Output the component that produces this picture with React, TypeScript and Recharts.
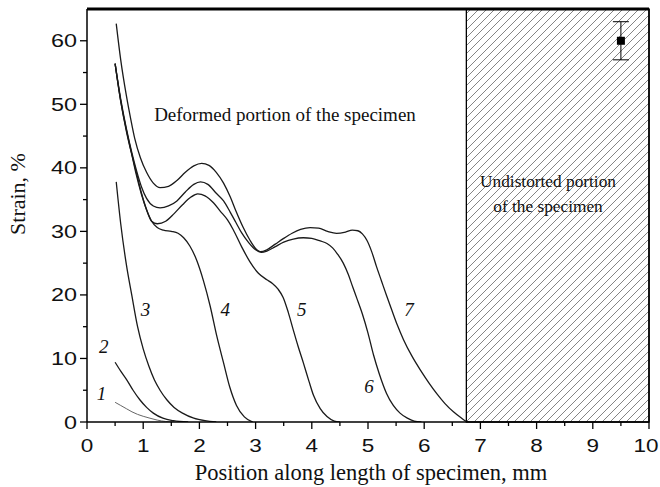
import React from 'react';
import {
  ComposedChart,
  Line,
  Scatter,
  ErrorBar,
  XAxis,
  YAxis,
  ReferenceArea,
  ReferenceLine,
  ReferenceDot,
} from 'recharts';

// strain profiles, [position mm, strain %]
const curve1 = [[0.5, 3.1], [0.6, 2.6], [0.7, 2.1], [0.8, 1.6], [0.9, 1.2], [1.0, 0.9], [1.12, 0.6], [1.25, 0.3], [1.4, 0.08], [1.55, 0]];
const curve2 = [[0.5, 9.4], [0.6, 8.0], [0.71, 6.6], [0.82, 5.0], [0.94, 3.5], [1.06, 2.3], [1.18, 1.4], [1.35, 0.6], [1.54, 0.2], [1.8, 0]];
const curve3 = [[0.52, 37.8], [0.6, 31.2], [0.7, 24.8], [0.8, 19.8], [0.9, 15], [1.0, 11.5], [1.1, 8.8], [1.2, 6.6], [1.3, 5], [1.42, 3.5], [1.55, 2.3], [1.7, 1.4], [1.9, 0.6], [2.1, 0.2], [2.3, 0]];
const curve4 = [[0.5, 56.4], [0.6, 50.5], [0.7, 46], [0.8, 42], [0.88, 38.8], [0.97, 35.8], [1.06, 33.4], [1.15, 31.6], [1.25, 30.6], [1.36, 30.2], [1.5, 30], [1.62, 29.7], [1.72, 29], [1.83, 27.7], [1.95, 25.5], [2.07, 22.3], [2.19, 18.3], [2.31, 13.5], [2.43, 9.3], [2.54, 5.5], [2.66, 2.6], [2.8, 0.8], [2.95, 0]];
const curve5 = [[0.5, 56.4], [0.6, 50.5], [0.7, 45.8], [0.8, 42], [0.88, 39.2], [0.97, 36], [1.06, 33.4], [1.15, 31.6], [1.25, 31.2], [1.4, 31.6], [1.55, 32.8], [1.7, 34.2], [1.85, 35.4], [1.97, 35.9], [2.1, 35.6], [2.25, 34.5], [2.37, 33.2], [2.5, 31.8], [2.6, 30.3], [2.75, 27.6], [2.9, 25.2], [3.05, 23.4], [3.2, 22.4], [3.3, 21.8], [3.4, 20.9], [3.49, 19.6], [3.58, 17.3], [3.67, 14.5], [3.76, 11.8], [3.85, 9.3], [3.95, 6.4], [4.03, 4.2], [4.15, 2.1], [4.27, 0.85], [4.4, 0.15], [4.5, 0]];
const curve6 = [[0.5, 56.4], [0.6, 50.8], [0.7, 46.2], [0.8, 42.3], [0.88, 39.6], [0.97, 37], [1.06, 35.2], [1.18, 34], [1.3, 33.7], [1.45, 34], [1.6, 34.8], [1.75, 36.2], [1.9, 37.4], [2.02, 37.8], [2.15, 37.4], [2.3, 36], [2.43, 34.8], [2.55, 33], [2.65, 31.4], [2.75, 29.8], [2.88, 28.2], [3.0, 27.1], [3.1, 26.7], [3.2, 26.9], [3.35, 27.6], [3.5, 28.3], [3.67, 28.8], [3.85, 29], [4.0, 28.9], [4.15, 28.5], [4.27, 28.1], [4.37, 27.4], [4.46, 26.4], [4.56, 25], [4.65, 23.2], [4.73, 21.2], [4.8, 19.5], [4.9, 17], [5.0, 14], [5.1, 10.5], [5.2, 7.6], [5.33, 4.5], [5.45, 2.6], [5.57, 1.4], [5.7, 0.6], [5.82, 0.15], [5.95, 0]];
const curve7 = [[0.52, 62.7], [0.6, 57], [0.7, 51.4], [0.78, 47.6], [0.85, 44.6], [0.95, 41.6], [1.06, 39.3], [1.18, 37.6], [1.3, 36.9], [1.45, 37.1], [1.6, 38], [1.75, 39.3], [1.9, 40.3], [2.04, 40.7], [2.17, 40.4], [2.3, 39.3], [2.43, 37.6], [2.55, 35.4], [2.65, 33.2], [2.78, 30.6], [2.9, 28.6], [3.0, 27.3], [3.08, 26.8], [3.2, 27.1], [3.35, 28], [3.5, 28.9], [3.65, 29.7], [3.8, 30.3], [3.97, 30.6], [4.12, 30.5], [4.28, 30], [4.44, 29.7], [4.6, 29.9], [4.72, 30.2], [4.82, 30.1], [4.9, 29.6], [4.98, 28.6], [5.07, 26.7], [5.15, 24.5], [5.24, 22.2], [5.33, 19.9], [5.42, 17.7], [5.52, 15.3], [5.63, 13], [5.78, 10.4], [5.93, 8.2], [6.08, 6.2], [6.22, 4.5], [6.37, 2.9], [6.52, 1.6], [6.65, 0.7], [6.75, 0.1], [6.8, 0]];

const curves = [curve1, curve2, curve3, curve4, curve5, curve6, curve7];

// curve number labels placed in data coordinates
const labelNames = ['1', '2', '3', '4', '5', '6', '7'];
const labelX = [0.26, 0.3, 1.04, 2.46, 3.82, 5.02, 5.73];
const labelY = [4.5, 11.9, 17.8, 17.8, 17.7, 5.7, 17.7];

// undistorted reference measurement
const refPoint = [{ x: 9.5, y: 60, err: 3 }];

const xTicks = [0, 0.5, 1, 1.5, 2, 2.5, 3, 3.5, 4, 4.5, 5, 5.5, 6, 6.5, 7, 7.5, 8, 8.5, 9, 9.5, 10];
const yTicks = [0, 5, 10, 15, 20, 25, 30, 35, 40, 45, 50, 55, 60];

const deformedEnd = 6.75;

const toPts = (c: number[][]) => c.map(([x, y]) => ({ x, y }));

const sans = '"Liberation Sans", Arial, sans-serif';
const serif = '"Liberation Serif", "Times New Roman", serif';

// tick digits in the source are wide, so stretch them a bit
const XTick = (props: any) => {
  const { x, y, payload } = props;
  const major = Number.isInteger(payload.value);
  const last = payload.value === 10;
  return (
    <g>
      <line x1={x} y1={y} x2={x} y2={y + (major ? 7 : 4)} stroke="#000" strokeWidth={1.3} />
      {major && (
        <text
          transform={`translate(${last ? x - 3 : x},${y + 30}) scale(1.25,1)`}
          textAnchor="middle"
          fontFamily={sans}
          fontSize={18}
          fill="#111"
        >
          {payload.value}
        </text>
      )}
    </g>
  );
};

const YTick = (props: any) => {
  const { x, y, payload } = props;
  const major = payload.value % 10 === 0;
  return (
    <g>
      <line x1={x} y1={y} x2={x - (major ? 7 : 4)} y2={y} stroke="#000" strokeWidth={1.3} />
      {major && (
        <text
          transform={`translate(${x - 10},${y + 6.5}) scale(1.3,1)`}
          textAnchor="end"
          fontFamily={sans}
          fontSize={18}
          fill="#111"
        >
          {payload.value}
        </text>
      )}
    </g>
  );
};

export default function App() {
  return (
    <div style={{ position: 'absolute', left: 0, top: 0, width: 660, height: 487, background: '#fff' }}>
      <ComposedChart width={660} height={487} margin={{ top: 9, right: 11, left: 47, bottom: 35 }}>
        <defs>
          <pattern id="hatch" patternUnits="userSpaceOnUse" width={8} height={8}>
            <path d="M-2,2 l4,-4 M0,8 l8,-8 M6,10 l4,-4" stroke="#777" strokeWidth={0.9} />
          </pattern>
        </defs>
        <XAxis
          dataKey="x"
          type="number"
          domain={[0, 10]}
          ticks={xTicks}
          interval={0}
          allowDataOverflow
          height={30}
          tickSize={0}
          tickMargin={0}
          tick={<XTick />}
          axisLine={{ stroke: '#000', strokeWidth: 1.5 }}
        />
        <YAxis
          type="number"
          domain={[0, 65]}
          ticks={yTicks}
          interval={0}
          allowDataOverflow
          width={40}
          tickSize={0}
          tickMargin={0}
          tick={<YTick />}
          axisLine={{ stroke: '#000', strokeWidth: 1.5 }}
        />
        <ReferenceArea x1={deformedEnd} x2={10} y1={0} y2={65} fill="url(#hatch)" fillOpacity={1} stroke="#000" strokeWidth={1.3} />
        <ReferenceLine y={65} stroke="#000" strokeWidth={3} />
        <ReferenceLine x={10} stroke="#000" strokeWidth={1.5} />
        {curves.map((c, i) => (
          <Line
            key={i}
            data={toPts(c)}
            dataKey="y"
            type="monotone"
            stroke={i === 0 ? '#666' : '#1a1a1a'}
            strokeWidth={i === 0 ? 1 : 1.3}
            dot={false}
            isAnimationActive={false}
          />
        ))}
        <Scatter data={refPoint} dataKey="y" shape="square" fill="#000" isAnimationActive={false}>
          <ErrorBar dataKey="err" direction="y" width={8} stroke="#000" strokeWidth={1} />
        </Scatter>
        {labelNames.map((n, i) => (
          <ReferenceDot
            key={n}
            x={labelX[i]}
            y={labelY[i]}
            r={0}
            fill="none"
            stroke="none"
            label={{ value: n, position: 'center', fontFamily: serif, fontStyle: 'italic', fontSize: 19, fill: '#111' }}
          />
        ))}
      </ComposedChart>
      <svg width={660} height={487} style={{ position: 'absolute', left: 0, top: 0, pointerEvents: 'none' }}>
        <text x={285} y={121} textAnchor="middle" fontFamily={serif} fontSize={19} fill="#111">
          Deformed portion of the specimen
        </text>
        <text x={548} y={187} textAnchor="middle" fontFamily={serif} fontSize={17.3} fill="#111">
          Undistorted portion
        </text>
        <text x={548} y={212} textAnchor="middle" fontFamily={serif} fontSize={17.3} fill="#111">
          of the specimen
        </text>
        <text
          x={25}
          y={194}
          textAnchor="middle"
          fontFamily={serif}
          fontSize={22}
          fill="#111"
          transform="rotate(-90 25 194)"
        >
          Strain, %
        </text>
        <text x={371} y={480} textAnchor="middle" fontFamily={serif} fontSize={22.5} fill="#111">
          Position along length of specimen, mm
        </text>
      </svg>
    </div>
  );
}
